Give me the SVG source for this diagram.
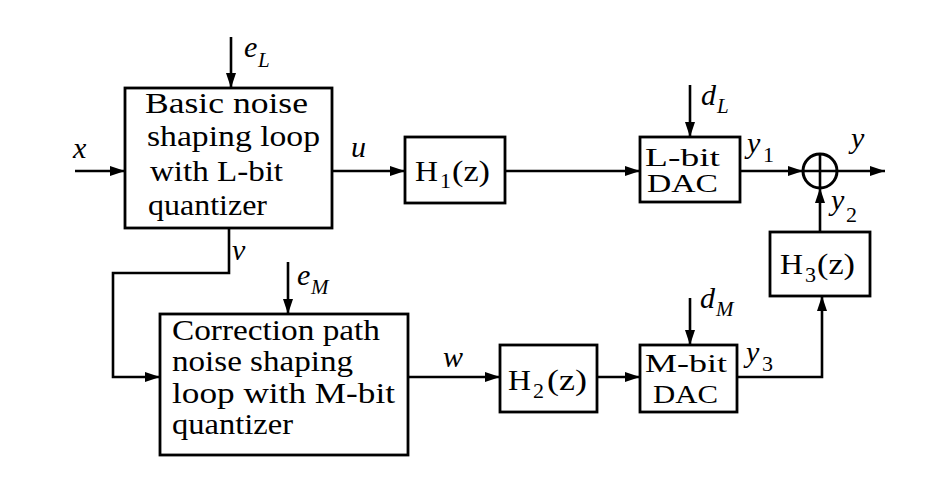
<svg xmlns="http://www.w3.org/2000/svg" width="945" height="493" viewBox="0 0 945 493" font-family="'Liberation Serif', 'DejaVu Serif', 'Times New Roman', serif">
<style>
  .box { fill: #fff; stroke: #000; stroke-width: 2.8; }
  .ln { fill: none; stroke: #000; stroke-width: 2.6; }
  .arr { marker-end: url(#ah); }
  text { font-family: 'Liberation Serif', 'DejaVu Serif', 'Times New Roman', serif; fill: #000; }
  .t { font-size: 30px; }
  .d { font-size: 25px; }
  .s { font-size: 22px; }
  .i { font-style: italic; font-size: 30px; }
  .is { font-style: italic; font-size: 21px; }
</style>
<defs>
  <marker id="ah" markerUnits="userSpaceOnUse" markerWidth="15" markerHeight="10" refX="15" refY="5" orient="auto">
    <path d="M0,0 L15,5 L0,10 z" fill="#000"/>
  </marker>
</defs>
<rect width="945" height="493" fill="#fff"/>

<g id="connectors">
  <path class="ln arr" d="M75,171 H125"/>
  <path class="ln arr" d="M231,37 V88"/>
  <path class="ln arr" d="M332,171 H405"/>
  <path class="ln arr" d="M505,171 H640"/>
  <path class="ln arr" d="M690,85 V137"/>
  <path class="ln arr" d="M740,171 H803"/>
  <path class="ln arr" d="M837,171 H885"/>
  <path class="ln arr" d="M820,232 V188"/>
  <path class="ln arr" d="M229,228 V273 H113 V377 H160"/>
  <path class="ln arr" d="M288,262 V314"/>
  <path class="ln arr" d="M408,377 H500"/>
  <path class="ln arr" d="M597,377 H640"/>
  <path class="ln arr" d="M690,298 V345"/>
  <path class="ln arr" d="M737,377 H822 V296"/>
</g>

<g id="labels">
  <text class="i" x="73" y="158">x</text>
  <text class="i" x="244" y="57">e</text><text class="is" x="258" y="67">L</text>
  <text class="i" x="351" y="157">u</text>
  <text class="i" x="701" y="105">d</text><text class="is" x="717" y="113">L</text>
  <text class="i" x="747" y="153">y</text><text class="s" x="763" y="162">1</text>
  <text class="i" x="851" y="148">y</text>
  <text class="i" x="831" y="210">y</text><text class="s" x="846" y="222">2</text>
  <text class="i" x="232" y="260">v</text>
  <text class="i" x="297" y="285">e</text><text class="is" x="311" y="294">M</text>
  <text class="i" x="443" y="367">w</text>
  <text class="i" x="700" y="308">d</text><text class="is" x="716" y="316">M</text>
  <text class="i" x="746" y="362">y</text><text class="s" x="762" y="371">3</text>
</g>

<g id="basic-loop">
  <rect class="box" x="125" y="88" width="207" height="140"/>
  <text class="t" x="145" y="113" textLength="163" lengthAdjust="spacingAndGlyphs">Basic noise</text>
  <text class="t" x="147" y="146" textLength="173" lengthAdjust="spacingAndGlyphs">shaping loop</text>
  <text class="t" x="150" y="181" textLength="133" lengthAdjust="spacingAndGlyphs">with L-bit</text>
  <text class="t" x="148" y="215" textLength="119" lengthAdjust="spacingAndGlyphs">quantizer</text>
</g>

<g id="H1">
  <rect class="box" x="405" y="137" width="100" height="66"/>
  <text class="t" x="415" y="181" textLength="23" lengthAdjust="spacingAndGlyphs">H</text>
  <text class="s" x="440" y="188">1</text>
  <text class="t" x="452" y="181" textLength="38" lengthAdjust="spacingAndGlyphs">(z)</text>
</g>

<g id="L-DAC">
  <rect class="box" x="640" y="137" width="100" height="65"/>
  <text class="d" x="645" y="166" textLength="75" lengthAdjust="spacingAndGlyphs">L-bit</text>
  <text class="d" x="647" y="192" textLength="71" lengthAdjust="spacingAndGlyphs">DAC</text>
</g>

<g id="sum">
  <circle cx="820" cy="171" r="17" fill="#fff" stroke="#000" stroke-width="3"/>
  <path class="ln" d="M803,171 H837 M820,154 V188"/>
</g>

<g id="H3">
  <rect class="box" x="770" y="232" width="100" height="64"/>
  <text class="t" x="780" y="274" textLength="23" lengthAdjust="spacingAndGlyphs">H</text>
  <text class="s" x="805" y="282">3</text>
  <text class="t" x="817" y="274" textLength="38" lengthAdjust="spacingAndGlyphs">(z)</text>
</g>

<g id="correction-loop">
  <rect class="box" x="160" y="314" width="248" height="141"/>
  <text class="t" x="172" y="340" textLength="208" lengthAdjust="spacingAndGlyphs">Correction path</text>
  <text class="t" x="172" y="371" textLength="181" lengthAdjust="spacingAndGlyphs">noise shaping</text>
  <text class="t" x="172" y="403" textLength="223" lengthAdjust="spacingAndGlyphs">loop with M-bit</text>
  <text class="t" x="172" y="434" textLength="121" lengthAdjust="spacingAndGlyphs">quantizer</text>
</g>

<g id="H2">
  <rect class="box" x="500" y="345" width="97" height="67"/>
  <text class="t" x="508" y="390" textLength="23" lengthAdjust="spacingAndGlyphs">H</text>
  <text class="s" x="533" y="398">2</text>
  <text class="t" x="547" y="390" textLength="40" lengthAdjust="spacingAndGlyphs">(z)</text>
</g>

<g id="M-DAC">
  <rect class="box" x="640" y="345" width="97" height="67"/>
  <text class="d" x="645" y="372" textLength="82" lengthAdjust="spacingAndGlyphs">M-bit</text>
  <text class="d" x="653" y="403" textLength="65" lengthAdjust="spacingAndGlyphs">DAC</text>
</g>
</svg>
